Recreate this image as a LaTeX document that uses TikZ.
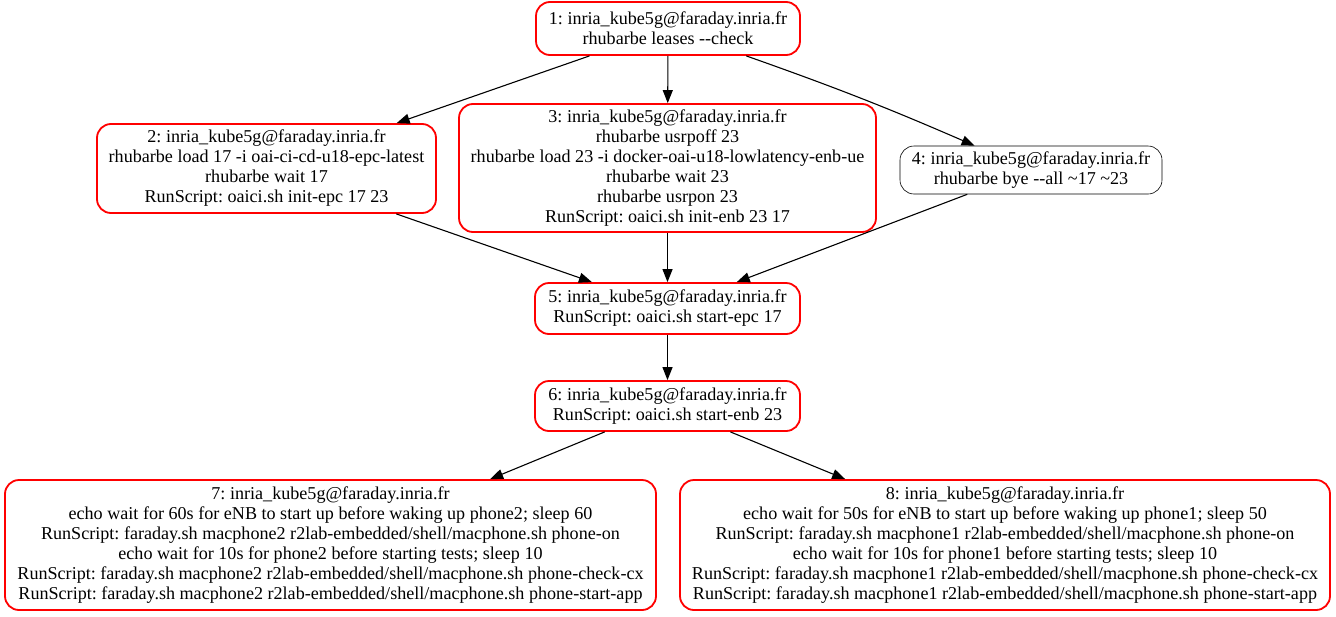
\documentclass[tikz,border=0pt]{standalone}
\usepackage{fontspec}
\setmainfont{Liberation Serif}
\usetikzlibrary{arrows.meta}
\frenchspacing
\tikzset{
  job/.style={draw=red, line width=1.8pt, rounded corners=14pt, align=center, inner sep=0pt,
    font=\fontsize{18.1}{20}\selectfont},
  plainjob/.style={job, draw=black, line width=0.6pt},
  dep/.style={-{Triangle[length=13pt,width=10pt]}, line width=1.1pt},
}

\begin{document}
\begin{tikzpicture}[x=1pt, y=-1pt]
		%%%%% START %%%%%
		\useasboundingbox (0, 0) rectangle (1336, 616);
		
		\node[job, minimum width=264, minimum height=53] (n1) at (668, 28.5)
		  {1: inria\_kube5g@faraday.inria.fr\\rhubarbe leases -{}-check};
		
		\node[job, minimum width=339, minimum height=89] (n2) at (266.5, 168.5)
		  {2: inria\_kube5g@faraday.inria.fr\\rhubarbe load 17 -i oai-ci-cd-u18-epc-latest\\rhubarbe wait 17\\RunScript: oaici.sh init-epc 17 23};
		\node[job, minimum width=417, minimum height=128] (n3) at (667.5, 168)
		  {3: inria\_kube5g@faraday.inria.fr\\rhubarbe usrpoff 23\\rhubarbe load 23 -i docker-oai-u18-lowlatency-enb-ue\\rhubarbe wait 23\\rhubarbe usrpon 23\\RunScript: oaici.sh init-enb 23 17};
		\node[plainjob, minimum width=262, minimum height=48] (n4) at (1031, 170)
		  {4: inria\_kube5g@faraday.inria.fr\\rhubarbe bye -{}-all \textasciitilde17 \textasciitilde23};
		
		\node[job, minimum width=265, minimum height=51] (n5) at (667.5, 308.5)
		  {5: inria\_kube5g@faraday.inria.fr\\RunScript: oaici.sh start-epc 17};
		\node[job, minimum width=265, minimum height=50] (n6) at (667.5, 406)
		  {6: inria\_kube5g@faraday.inria.fr\\RunScript: oaici.sh start-enb 23};
		
		\node[job, minimum width=651, minimum height=130] (n7) at (330.5, 545)
		  {7: inria\_kube5g@faraday.inria.fr\\echo wait for 60s for eNB to start up before waking up phone2; sleep 60\\RunScript: faraday.sh macphone2 r2lab-embedded/shell/macphone.sh phone-on\\echo wait for 10s for phone2 before starting tests; sleep 10\\RunScript: faraday.sh macphone2 r2lab-embedded/shell/macphone.sh phone-check-cx\\RunScript: faraday.sh macphone2 r2lab-embedded/shell/macphone.sh phone-start-app};
		\node[job, minimum width=650, minimum height=130] (n8) at (1005, 545)
		  {8: inria\_kube5g@faraday.inria.fr\\echo wait for 50s for eNB to start up before waking up phone1; sleep 50\\RunScript: faraday.sh macphone1 r2lab-embedded/shell/macphone.sh phone-on\\echo wait for 10s for phone1 before starting tests; sleep 10\\RunScript: faraday.sh macphone1 r2lab-embedded/shell/macphone.sh phone-check-cx\\RunScript: faraday.sh macphone1 r2lab-embedded/shell/macphone.sh phone-start-app};
		
		\draw[dep] (n1) -- (n2);
		\draw[dep] (n1) -- (n3);
		\draw[dep] (n1) to[bend left=2] (n4);
		\draw[dep] (n2) -- (n5);
		\draw[dep] (n3) -- (n5);
		\draw[dep] (n4) -- (n5);
		\draw[dep] (n5) -- (n6);
		\draw[dep] (n6) -- (n7);
		\draw[dep] (n6) -- (n8);
		
		%%%%% END %%%%%
	\end{tikzpicture}
\end{document}
